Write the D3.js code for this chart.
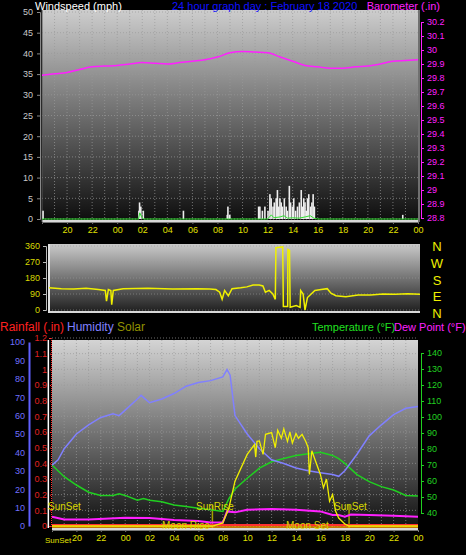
<!DOCTYPE html>
<html><head><meta charset="utf-8">
<script src="https://cdn.jsdelivr.net/npm/d3@7"></script>
<style>body{margin:0;background:#000}text{font-family:"Liberation Sans",Arial,sans-serif}</style>
</head><body><svg id="c" width="466" height="555"></svg>
<script>
const hourLabels=["20","22","00","02","04","06","08","10","12","14","16","18","20","22","00"];
const hourTicks=[20,22,24,26,28,30,32,34,36,38,40,42,44,46,48];
const baroTimes=d3.range(18,49);
const baroVals=[29.82,29.83,29.84,29.86,29.88,29.885,29.89,29.90,29.91,29.905,29.90,29.91,29.92,29.93,29.95,29.98,29.99,29.985,29.98,29.95,29.92,29.89,29.88,29.87,29.87,29.88,29.885,29.90,29.92,29.925,29.93];
const gusts=[[18.1,2],[25.75,2],[25.8,4],[25.9,3],[26.1,2],[29.3,2],[32.8,1],[32.85,3],[33.0,1],[35.3,3],[35.4,3],[35.6,2],[35.8,3],[36.05,2],[36.2,6],[36.3,5],[36.45,3],[36.55,4],[36.7,5],[36.8,7],[36.9,3],[37.0,5],[37.1,4],[37.2,3],[37.35,5],[37.5,3],[37.6,2],[37.75,8],[37.85,4],[38.0,3],[38.1,5],[38.25,2],[38.4,3],[38.55,4],[38.7,7],[38.8,3],[38.9,5],[39.0,4],[39.1,2],[39.2,5],[39.3,6],[39.45,3],[39.55,4],[39.65,6],[39.75,3],[46.8,1]];
const avgWind=[[18,0],[25.7,0],[25.8,1.5],[25.95,0.5],[26.1,0],[36.0,0],[36.3,1],[36.5,0.3],[37.0,0.5],[37.3,0.8],[37.6,0.2],[38.0,0.3],[38.5,0.2],[39.0,0.5],[39.4,0.8],[39.7,0.2],[40,0],[48,0]];
const windDir=[[18,125],[19,120],[20,118],[21,122],[22,115],[22.55,110],[22.65,50],[22.8,115],[23.0,110],[23.07,30],[23.2,110],[24,120],[26,122],[28,118],[30,120],[31,118],[31.5,115],[31.8,100],[32.0,60],[32.2,110],[32.5,80],[32.8,120],[33.5,125],[34,130],[34.5,140],[35,140],[35.3,135],[35.5,100],[35.8,110],[36.1,90],[36.3,60],[36.35,350],[36.9,355],[36.95,20],[37.3,20],[37.32,340],[37.45,335],[37.5,15],[38.0,25],[38.3,15],[38.35,110],[38.55,90],[38.7,0],[38.9,70],[39.2,90],[39.5,110],[40,115],[40.5,120],[40.8,95],[41.2,80],[42,75],[43,85],[44,85],[45,90],[46,88],[47,92],[48,88]];
const humidity=[[18,33],[18.5,36],[19,42],[20,50],[21,55],[22,59],[23,61],[23.5,60],[24,63],[25,69],[25.3,71],[26,67],[27,69],[28,72],[29,76],[30,78],[31,79],[32,81],[32.35,85],[32.6,82],[33,60],[34,50],[35,42],[36,36],[37,34],[38,31.5],[39,30],[40,29],[41,28],[41.5,27],[42,30],[43,39],[44,49],[45,55],[46,60.5],[47,64],[48,65]];
const temperature=[[18,70],[19,62.7],[20,57.5],[21,53],[22,51],[23,51],[23.5,52],[24,51],[25,48],[25.5,49],[26,48],[27,47],[28,45],[29,44],[30,43],[31,42],[32,41],[32.5,49],[33,55],[34,61.7],[35,68],[36,72],[37,74],[38,76],[39,77],[40,78],[41,76],[41.5,74],[42,71],[43,64],[44,59.6],[45,56.5],[46,54.4],[47,51],[48,50.6]];
const dewPoint=[[18,37.7],[19,36],[21,36],[24,37],[26,36.8],[28,35.6],[30,35],[31,34],[32,34],[32.35,41],[33,40.4],[34,42],[36,42.5],[38,42],[40,41],[41,38.7],[41.5,38.7],[42,37.7],[42.5,39],[44,38.7],[46,38.3],[48,37.7]];
const solar=[[18,0],[31.15,0],[32,20],[32.5,115],[33,286],[34,457],[34.6,520],[34.7,440],[34.8,540],[35,543],[35.3,457],[35.5,585],[36,596],[36.3,500],[36.5,611],[36.8,560],[37,620],[37.3,540],[37.5,600],[37.7,530],[38,590],[38.2,560],[38.5,585],[38.8,540],[39,500],[39.1,329],[39.3,480],[39.5,436],[40,329],[40.25,244],[40.5,300],[40.75,158],[41,200],[41.25,94],[41.5,51],[42,13],[42.35,0],[48,0]];
const windTicks=[0,5,10,15,20,25,30,35,40,45,50];
const baroTicks=[28.8,28.9,29,29.1,29.2,29.3,29.4,29.5,29.6,29.7,29.8,29.9,30,30.1,30.2];
const dirTicks=[0,90,180,270,360];
const humTicks=[0,10,20,30,40,50,60,70,80,90,100];
const rainTicks=[0,0.1,0.2,0.3,0.4,0.5,0.6,0.7,0.8,0.9,1,1.1,1.2];
const tempTicks=[40,50,60,70,80,90,100,110,120,130,140];

const svg=d3.select("#c");
const defs=svg.append("defs");
function grad(id,top,bot){const g=defs.append("linearGradient").attr("id",id).attr("x1",0).attr("y1",0).attr("x2",0).attr("y2",1);
g.append("stop").attr("offset",0).attr("stop-color",top);g.append("stop").attr("offset",1).attr("stop-color",bot);}
grad("g1","#cdcdcd","#0c0c0c");grad("g2","#cacaca","#1c1c1c");grad("g3","#d4d4d4","#0e0e0e");
const fmt=v=>String(+v.toFixed(2));
function txt(x,y,s,c,a,fs){return svg.append("text").attr("x",x).attr("y",y).text(s).attr("fill",c).attr("text-anchor",a||"start").attr("font-size",fs||12);}

// ---- top panel
const x1=d3.scaleLinear().domain([18,48]).range([42,418]);
const yW=d3.scaleLinear().domain([0,50]).range([219,12]);
const yB=d3.scaleLinear().domain([28.8,30.2]).range([218,22]);
svg.append("rect").attr("x",42).attr("y",10).attr("width",376).attr("height",212).attr("fill","url(#g1)");
const gr=svg.append("g").attr("stroke","#9a9a9a").attr("stroke-dasharray","1,2").attr("stroke-width",1).attr("opacity",0.7);
d3.range(19,48).forEach(h=>gr.append("line").attr("x1",x1(h)).attr("x2",x1(h)).attr("y1",10).attr("y2",222));
windTicks.forEach(v=>gr.append("line").attr("x1",42).attr("x2",418).attr("y1",yW(v)).attr("y2",yW(v)));
svg.append("line").attr("x1",42).attr("x2",418).attr("y1",221).attr("y2",221).attr("stroke","#d8d8d8").attr("stroke-width",2);
svg.append("line").attr("x1",42).attr("x2",42).attr("y1",10).attr("y2",222).attr("stroke","#555");
svg.append("line").attr("x1",419).attr("x2",419).attr("y1",10).attr("y2",222).attr("stroke","#e0e0e0");
gusts.forEach(d=>{svg.append("rect").attr("x",x1(d[0])-1).attr("width",1.6).attr("y",yW(d[1])).attr("height",yW(0)-yW(d[1])).attr("fill","#eeeeee");});
svg.append("path").datum(avgWind).attr("d",d3.line().x(d=>x1(d[0])).y(d=>yW(d[1]))).attr("fill","none").attr("stroke","#30e030").attr("stroke-width",1);
svg.append("path").datum(baroTimes.map((t,i)=>[t,baroVals[i]])).attr("d",d3.line().curve(d3.curveMonotoneX).x(d=>x1(d[0])).y(d=>yB(d[1]))).attr("fill","none").attr("stroke","#ff20ff").attr("stroke-width",1.5);
const la=d3.axisLeft(yW).tickValues(windTicks).tickSize(3).tickPadding(4);
const gl=svg.append("g").attr("transform","translate(40,0)").call(la);
gl.selectAll("text").attr("fill","#c8c8c8").attr("font-size",9);gl.selectAll("line,path").attr("stroke","#888");
const ra=d3.axisRight(yB).tickValues(baroTicks).tickFormat(fmt).tickSize(3).tickPadding(3);
const gra=svg.append("g").attr("transform","translate(421,0)").call(ra);
gra.selectAll("text").attr("fill","#ff20ff").attr("font-size",9);gra.selectAll("line,path").attr("stroke","#ff20ff");
const ba=d3.axisBottom(x1).tickValues(hourTicks).tickFormat((d,i)=>hourLabels[i]).tickSize(2);
const gb=svg.append("g").attr("transform","translate(0,222)").call(ba);
gb.selectAll("text").attr("fill","#e0e000").attr("font-size",9);gb.selectAll("line,path").attr("stroke","#777");
txt(35,10,"Windspeed (mph)","#ffffff","start",11);
txt(172,10,"24 hour graph day : February 18 2020","#1010ff","start",11);
txt(440,10,"Barometer (.in)","#ff20ff","end",11);

// ---- direction panel
const x2=d3.scaleLinear().domain([18,48]).range([49,420]);
const yD=d3.scaleLinear().domain([0,360]).range([310,246]);
svg.append("rect").attr("x",49).attr("y",244).attr("width",371).attr("height",69).attr("fill","url(#g2)");
const gr2=svg.append("g").attr("stroke","#9a9a9a").attr("stroke-dasharray","1,2").attr("opacity",0.6);
dirTicks.forEach(v=>gr2.append("line").attr("x1",49).attr("x2",420).attr("y1",yD(v)).attr("y2",yD(v)));
svg.append("line").attr("x1",49).attr("x2",420).attr("y1",312).attr("y2",312).attr("stroke","#d8d8d8").attr("stroke-width",2);
svg.append("line").attr("x1",49).attr("x2",49).attr("y1",244).attr("y2",313).attr("stroke","#e0e0e0").attr("stroke-width",2);
svg.append("path").datum(windDir).attr("d",d3.line().x(d=>x2(d[0])).y(d=>yD(d[1]))).attr("fill","none").attr("stroke","#f0f000").attr("stroke-width",1.5);
const gd=svg.append("g").attr("transform","translate(46,0)").call(d3.axisLeft(yD).tickValues(dirTicks).tickSize(3).tickPadding(3));
gd.selectAll("text").attr("fill","#d8d800").attr("font-size",9);gd.selectAll("line,path").attr("stroke","#bbb");
["N","W","S","E","N"].forEach((s,i)=>txt(437,[251,268,285,301,318][i],s,"#f0f000","middle",13));

// ---- bottom panel
const x3=d3.scaleLinear().domain([18,48]).range([52,418]);
const yH=d3.scaleLinear().domain([0,100]).range([526,342]);
const yR=d3.scaleLinear().domain([0,1.2]).range([526,338]);
const yT=d3.scaleLinear().domain([40,140]).range([513,353]);
const ySol=d3.scaleLinear().domain([0,1200]).range([526,338]);
svg.append("rect").attr("x",52).attr("y",340).attr("width",366).attr("height",189).attr("fill","url(#g3)");
const gr3=svg.append("g").attr("stroke","#9a9a9a").attr("stroke-dasharray","1,2").attr("opacity",0.7);
d3.range(19,48).forEach(h=>gr3.append("line").attr("x1",x3(h)).attr("x2",x3(h)).attr("y1",340).attr("y2",529));
rainTicks.forEach(v=>gr3.append("line").attr("x1",52).attr("x2",418).attr("y1",yR(v)).attr("y2",yR(v)));
svg.append("line").attr("x1",52).attr("x2",418).attr("y1",529).attr("y2",529).attr("stroke","#d8d8d8").attr("stroke-width",2);
[[17.7,"#ffffff"],[31.15,"#a0a000"],[42.35,"#a0a000"]].forEach(d=>svg.append("line").attr("x1",x3(d[0])).attr("x2",x3(d[0])).attr("y1",d[1]=="#ffffff"?340:505).attr("y2",528).attr("stroke",d[1]).attr("stroke-width",1.5));
svg.append("line").attr("x1",52).attr("x2",418).attr("y1",yR(0)-1).attr("y2",yR(0)-1).attr("stroke","#ff3030").attr("stroke-width",2);
svg.append("line").attr("x1",52).attr("x2",418).attr("y1",yR(0)+1).attr("y2",yR(0)+1).attr("stroke","#ffa000").attr("stroke-width",1.5);
const ln=(ys)=>d3.line().x(d=>x3(d[0])).y(d=>ys(d[1]));
svg.append("path").datum(dewPoint).attr("d",ln(yT)).attr("fill","none").attr("stroke","#ff20ff").attr("stroke-width",2);
svg.append("path").datum(temperature).attr("d",ln(yT)).attr("fill","none").attr("stroke","#20d020").attr("stroke-width",1.5);
svg.append("path").datum(humidity).attr("d",ln(yH)).attr("fill","none").attr("stroke","#8080ff").attr("stroke-width",1.5);
svg.append("path").datum(solar).attr("d",ln(ySol)).attr("fill","none").attr("stroke","#f0f000").attr("stroke-width",1.3);
const gh=svg.append("g").attr("transform","translate(29,0)").call(d3.axisLeft(yH).tickValues(humTicks).tickSize(0).tickPadding(4));
gh.selectAll("text").attr("fill","#7070ff").attr("font-size",9);gh.select(".domain").attr("stroke","#6060ff").attr("stroke-width",2);
const grr=svg.append("g").attr("transform","translate(51,0)").call(d3.axisLeft(yR).tickValues(rainTicks).tickFormat(fmt).tickSize(2).tickPadding(2));
grr.selectAll("text").attr("fill","#e02020").attr("font-size",9);grr.selectAll("line,path").attr("stroke","#ff3030").attr("stroke-dasharray","1,1");
const gt=svg.append("g").attr("transform","translate(421,0)").call(d3.axisRight(yT).tickValues(tempTicks).tickSize(3).tickPadding(3));
gt.selectAll("text").attr("fill","#20d020").attr("font-size",9);gt.selectAll("line,path").attr("stroke","#20d020");
const gb3=svg.append("g").attr("transform","translate(0,530)").call(d3.axisBottom(x3).tickValues(hourTicks).tickFormat((d,i)=>hourLabels[i]).tickSize(2));
gb3.selectAll("text").attr("fill","#e0e000").attr("font-size",9);gb3.selectAll("line,path").attr("stroke","#777");
txt(45,543,"SunSet","#e0e000","start",8);
txt(48,510,"SunSet","#d8d800","start",10);txt(196,510,"SunRise","#d8d800","start",10);txt(334,510,"SunSet","#d8d800","start",10);
txt(162,529,"Moon Rise","#d8d800","start",10);txt(286,529,"Moon Set","#d8d800","start",10);
txt(0,331,"Rainfall (.in)","#ff2020");txt(67,331,"Humidity","#8080ff");txt(117,331,"Solar","#909000");
txt(312,331,"Temperature (°F)","#20e020","start",11);txt(394,331,"Dew Point (°F)","#ff20ff","start",11);
</script></body></html>
